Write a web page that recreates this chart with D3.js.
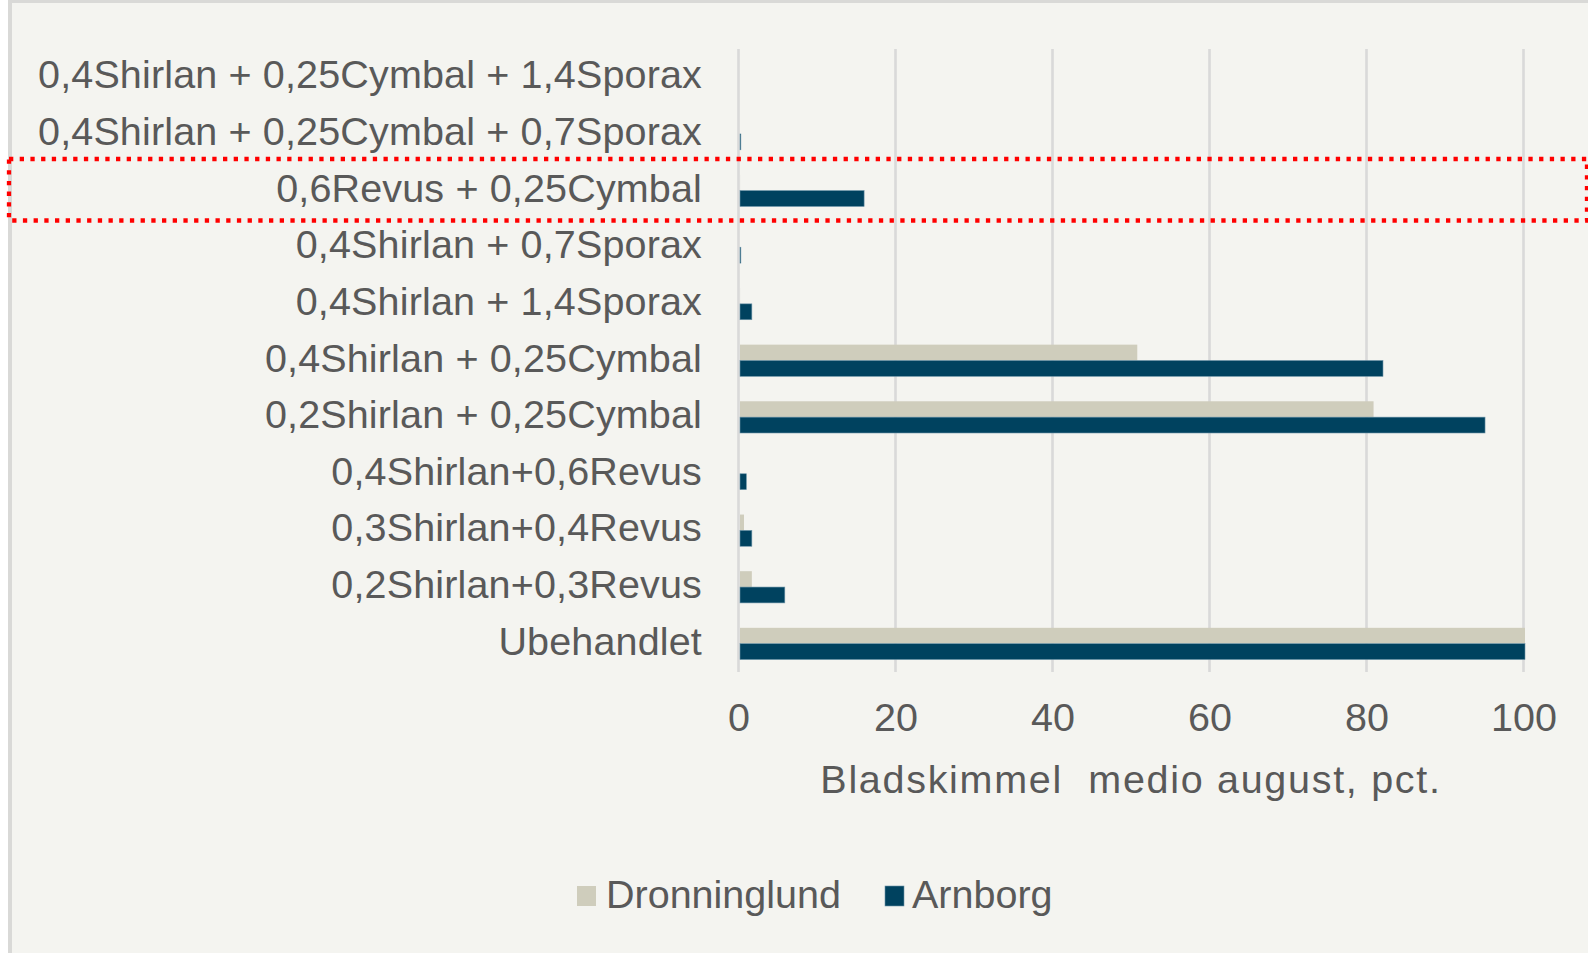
<!DOCTYPE html>
<html>
<head>
<meta charset="utf-8">
<script src="https://cdn.jsdelivr.net/npm/d3@7"></script>
<style>
  html, body { margin: 0; padding: 0; background: #ffffff; }
  svg { display: block; }
  text { font-family: "Liberation Sans", Arial, sans-serif; }
</style>
</head>
<body>
<svg id="chart" width="1588" height="953"></svg>
<script>
// ---- data ----
const categories = [
  "0,4Shirlan + 0,25Cymbal + 1,4Sporax",
  "0,4Shirlan + 0,25Cymbal + 0,7Sporax",
  "0,6Revus + 0,25Cymbal",
  "0,4Shirlan + 0,7Sporax",
  "0,4Shirlan + 1,4Sporax",
  "0,4Shirlan + 0,25Cymbal",
  "0,2Shirlan + 0,25Cymbal",
  "0,4Shirlan+0,6Revus",
  "0,3Shirlan+0,4Revus",
  "0,2Shirlan+0,3Revus",
  "Ubehandlet"
];
const seriesNames = ["Dronninglund", "Arnborg"];
const dronninglund = [0, 0, 0.2, 0, 0.2, 50.8, 80.9, 0, 0.7, 1.7, 100];
const arnborg      = [0, 0.3, 16.0, 0.3, 1.7, 82.1, 95.1, 1.0, 1.7, 5.9, 100];
const xTicks = [0, 20, 40, 60, 80, 100];
const xTitle = "Bladskimmel  medio august, pct.";
const colors = ["#cfcdbc", "#00425f"];

const svg = d3.select("#chart");
const W = 1588, H = 953;

// frame / background
svg.append("rect").attr("x", 0).attr("y", 0).attr("width", W).attr("height", H).attr("fill", "#ffffff");
svg.append("rect").attr("x", 8).attr("y", 0).attr("width", W - 8).attr("height", H).attr("fill", "#d9d9d7");
svg.append("rect").attr("x", 12).attr("y", 3).attr("width", W - 12).attr("height", H - 3).attr("fill", "#f4f4f0");

const x = d3.scaleLinear().domain([0, 100]).range([738.5, 1523.5]);
const y = d3.scaleBand().domain(categories).range([49, 672]).paddingInner(0.44).paddingOuter(0.22);
const ySub = d3.scaleBand().domain(seriesNames).range([0, y.bandwidth()]);

// gridlines
svg.append("g").selectAll("line").data(xTicks).join("line")
  .attr("x1", d => x(d)).attr("x2", d => x(d))
  .attr("y1", 49).attr("y2", 672)
  .attr("stroke", "#d9d9d9").attr("stroke-width", 2.6);

// bars
const series = [dronninglund, arnborg];
series.forEach((vals, si) => {
  svg.append("g").selectAll("rect").data(categories).join("rect")
    .attr("x", x(0) + 1.5)
    .attr("y", c => y(c) + ySub(seriesNames[si]))
    .attr("width", (c, i) => Math.max(0, x(vals[i]) - x(0) - 1.5 + (vals[i] >= 100 ? 1.5 : 0)))
    .attr("height", ySub.bandwidth())
    .attr("fill", colors[si])
    .attr("stroke", si === 1 ? "#6b93a8" : "none")
    .attr("stroke-width", si === 1 ? 0.6 : 0);
});

// category labels
svg.append("g").selectAll("text").data(categories).join("text")
  .attr("x", 702)
  .attr("y", c => y(c) + y.bandwidth() / 2 + 11)
  .attr("text-anchor", "end")
  .attr("font-size", 39.5)
  .attr("letter-spacing", 0.15)
  .attr("fill", "#595959")
  .text(c => c);

// x axis tick labels via d3 axis
const axis = d3.axisBottom(x).tickValues(xTicks).tickSize(0).tickPadding(0).tickFormat(d3.format("d"));
const gAxis = svg.append("g").attr("transform", "translate(0,0)").call(axis);
gAxis.select(".domain").remove();
gAxis.selectAll("text")
  .attr("y", 731).attr("dy", null)
  .attr("font-size", 39.5)
  .attr("fill", "#595959")
  .style("font-family", "'Liberation Sans', Arial, sans-serif");

// axis title
svg.append("text")
  .attr("x", (x(0) + x(100)) / 2)
  .attr("y", 793)
  .attr("text-anchor", "middle")
  .attr("font-size", 39.5)
  .attr("letter-spacing", 1.7)
  .attr("fill", "#595959")
  .style("white-space", "pre")
  .attr("xml:space", "preserve")
  .text(xTitle);

// legend
const legendItems = [
  { name: seriesNames[0], color: colors[0], sx: 577, tx: 606 },
  { name: seriesNames[1], color: colors[1], sx: 885, tx: 912 }
];
const lg = svg.append("g");
legendItems.forEach(it => {
  lg.append("rect").attr("x", it.sx).attr("y", 886).attr("width", 19).attr("height", 20).attr("fill", it.color)
    .attr("stroke", it.color === colors[1] ? "#6b93a8" : "none").attr("stroke-width", 0.6);
  lg.append("text").attr("x", it.tx).attr("y", 908).attr("font-size", 39.5).attr("fill", "#595959").text(it.name);
});

// red dotted highlight rectangle
svg.append("rect")
  .attr("x", 9).attr("y", 159)
  .attr("width", 1578).attr("height", 61.5)
  .attr("fill", "none")
  .attr("stroke", "#ff0000")
  .attr("stroke-width", 4.3)
  .attr("stroke-dasharray", "4.3 6.4");
</script>
</body>
</html>
